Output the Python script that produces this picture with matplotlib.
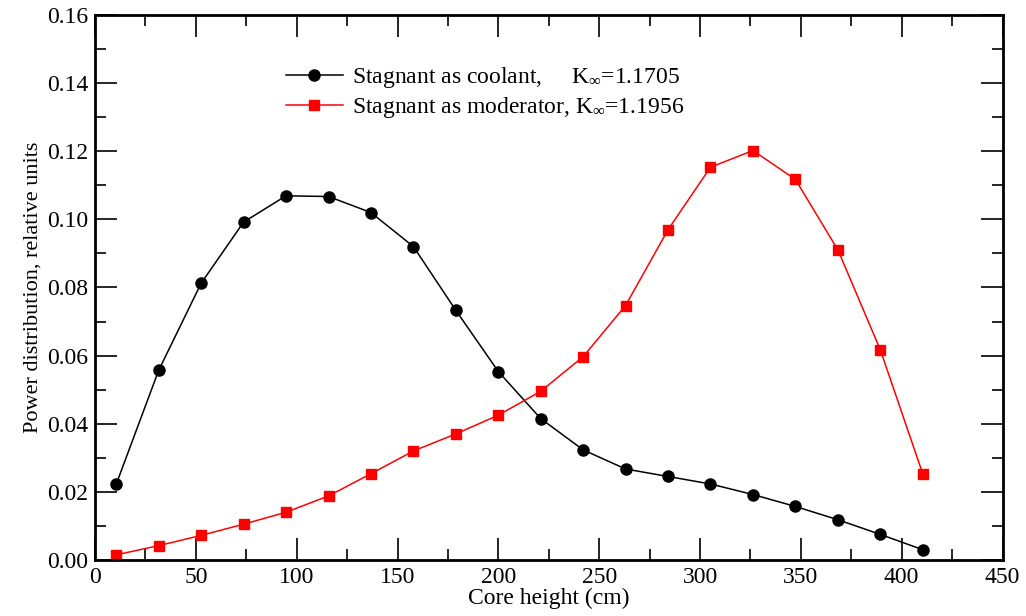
import numpy as np
import matplotlib
matplotlib.use('Agg')
import matplotlib.pyplot as plt
from matplotlib.ticker import MultipleLocator

plt.rcParams['font.family'] = ['Liberation Serif', 'DejaVu Serif']
plt.rcParams['mathtext.fontset'] = 'custom'
plt.rcParams['mathtext.rm'] = 'Liberation Serif'
plt.rcParams['mathtext.it'] = 'Liberation Serif:italic'

# core height of the nodes (cm)
height = [10.5, 31.6, 52.6, 73.7, 94.7, 115.8, 136.8, 157.9, 178.9, 200.0,
          221.0, 242.1, 263.1, 284.2, 305.2, 326.3, 347.3, 368.4, 389.4, 410.5]
coolant = [0.0222, 0.0557, 0.0812, 0.0992, 0.1069, 0.1067, 0.1020, 0.0920, 0.0733, 0.0553,
           0.0415, 0.0323, 0.0267, 0.0245, 0.0223, 0.0192, 0.0157, 0.0118, 0.0075, 0.0030]
moderator = [0.0015, 0.0042, 0.0072, 0.0105, 0.0140, 0.0188, 0.0253, 0.0320, 0.0370, 0.0425,
             0.0495, 0.0597, 0.0747, 0.0970, 0.1153, 0.1202, 0.1117, 0.0910, 0.0617, 0.0252]
label_coolant = r'Stagnant as coolant,     K$_\infty$=1.1705'
label_moderator = r'Stagnant as moderator, K$_\infty$=1.1956'

fig = plt.figure(figsize=(10.26, 6.16), dpi=100)
ax = fig.add_axes([0.0926, 0.091, 0.8845, 0.8847])

ax.plot(height, coolant, '-o', color='black', lw=1.1, ms=8, label=label_coolant)
ax.plot(height, moderator, '-s', color='red', lw=1.1, ms=7, label=label_moderator)

ax.set_xlim(0, 450)
ax.set_ylim(0, 0.16)
ax.xaxis.set_major_locator(MultipleLocator(50))
ax.xaxis.set_minor_locator(MultipleLocator(25))
ax.yaxis.set_major_locator(MultipleLocator(0.02))
ax.yaxis.set_minor_locator(MultipleLocator(0.01))
ax.yaxis.set_major_formatter(matplotlib.ticker.FormatStrFormatter('%.2f'))
ax.tick_params(which='both', direction='in', top=True, right=True, labelsize=17, width=1.2)
ax.tick_params(which='major', length=16, pad=5)
ax.tick_params(which='minor', length=8)
for s in ax.spines.values():
    s.set_linewidth(2)

ax.set_xlabel('Core height (cm)', fontsize=17, labelpad=0)
ax.set_ylabel('Power distribution, relative units', fontsize=16, labelpad=3)

ax.legend(loc='upper left', bbox_to_anchor=(0.2, 0.925), frameon=False, fontsize=17,
          handlelength=2.4, labelspacing=0.2, handletextpad=0.4, borderaxespad=0)

fig.savefig('out.png', dpi=100)
